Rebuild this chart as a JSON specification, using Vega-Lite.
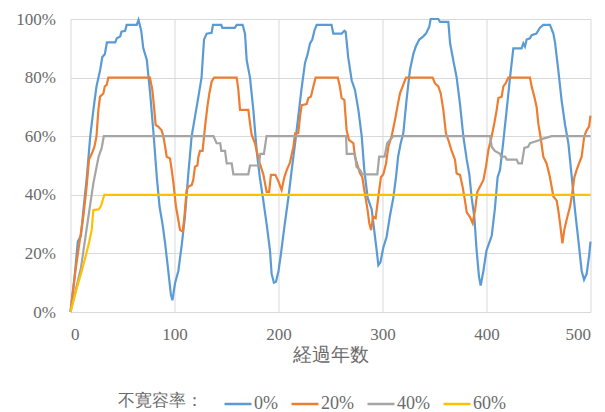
{
 "$schema": "https://vega.github.io/schema/vega-lite/v6.json",
 "width": 520,
 "height": 293,
 "autosize": {"type": "none"},
 "padding": {"left": 70.5, "top": 19, "right": 14.5, "bottom": 100},
 "background": "white",
 "config": {"font": "'Liberation Serif', serif", "view": {"stroke": null},
  "axis": {"labelFont": "'Liberation Serif', serif", "titleFont": "'Liberation Serif', serif"},
  "legend": {"labelFont": "'Liberation Serif', serif", "titleFont": "'Liberation Serif', serif"}},
 "data": {"values": [
{"s":"0%","x":0,"y":0},{"s":"0%","x":4,"y":12},{"s":"0%","x":7,"y":24},{"s":"0%","x":10,"y":26},{"s":"0%","x":12.5,"y":35},{"s":"0%","x":15.7,"y":46},{"s":"0%","x":19,"y":60},{"s":"0%","x":22,"y":69},{"s":"0%","x":25,"y":77},{"s":"0%","x":28.5,"y":82.6},{"s":"0%","x":30.6,"y":87},{"s":"0%","x":33,"y":88},{"s":"0%","x":35,"y":92},{"s":"0%","x":43,"y":92},{"s":"0%","x":44.5,"y":93.4},{"s":"0%","x":47.8,"y":94},{"s":"0%","x":49,"y":95.7},{"s":"0%","x":52.5,"y":96},{"s":"0%","x":54,"y":98},{"s":"0%","x":63.7,"y":98},{"s":"0%","x":65.4,"y":99.7},{"s":"0%","x":68,"y":96},{"s":"0%","x":70,"y":90},{"s":"0%","x":73.4,"y":86},{"s":"0%","x":76.6,"y":74.6},{"s":"0%","x":79.8,"y":61},{"s":"0%","x":83,"y":46},{"s":"0%","x":85.6,"y":36},{"s":"0%","x":88.5,"y":30},{"s":"0%","x":91,"y":23.4},{"s":"0%","x":94,"y":14},{"s":"0%","x":96.5,"y":6},{"s":"0%","x":98,"y":4},{"s":"0%","x":100.5,"y":9.8},{"s":"0%","x":103.7,"y":14},{"s":"0%","x":107,"y":23},{"s":"0%","x":110,"y":32.5},{"s":"0%","x":113,"y":46},{"s":"0%","x":116.5,"y":60},{"s":"0%","x":119.7,"y":66.7},{"s":"0%","x":123,"y":73.5},{"s":"0%","x":126,"y":80},{"s":"0%","x":128.4,"y":93},{"s":"0%","x":131,"y":95},{"s":"0%","x":135.7,"y":95.3},{"s":"0%","x":137,"y":98},{"s":"0%","x":145,"y":98},{"s":"0%","x":146,"y":97},{"s":"0%","x":158,"y":97},{"s":"0%","x":159.8,"y":98},{"s":"0%","x":165.5,"y":98},{"s":"0%","x":167.8,"y":95},{"s":"0%","x":169.4,"y":86},{"s":"0%","x":172.6,"y":80},{"s":"0%","x":175.8,"y":69},{"s":"0%","x":179,"y":55},{"s":"0%","x":182,"y":46},{"s":"0%","x":185,"y":39},{"s":"0%","x":188.6,"y":30},{"s":"0%","x":191.8,"y":21},{"s":"0%","x":193.4,"y":13},{"s":"0%","x":195.6,"y":10},{"s":"0%","x":197.6,"y":10.3},{"s":"0%","x":200,"y":14},{"s":"0%","x":202.4,"y":20},{"s":"0%","x":206,"y":30},{"s":"0%","x":209.5,"y":39},{"s":"0%","x":212.7,"y":48.5},{"s":"0%","x":216,"y":57.6},{"s":"0%","x":219,"y":66.7},{"s":"0%","x":222,"y":75.8},{"s":"0%","x":225.5,"y":85},{"s":"0%","x":228,"y":88},{"s":"0%","x":230.3,"y":91.7},{"s":"0%","x":232.5,"y":93},{"s":"0%","x":234.5,"y":96},{"s":"0%","x":236.7,"y":98},{"s":"0%","x":251,"y":98},{"s":"0%","x":252.7,"y":95},{"s":"0%","x":260.7,"y":95},{"s":"0%","x":263.3,"y":96},{"s":"0%","x":264.6,"y":95.6},{"s":"0%","x":267,"y":87},{"s":"0%","x":270.4,"y":79},{"s":"0%","x":273.5,"y":75.8},{"s":"0%","x":276.8,"y":69},{"s":"0%","x":280,"y":60},{"s":"0%","x":282.5,"y":48.5},{"s":"0%","x":285.7,"y":39},{"s":"0%","x":289.6,"y":35},{"s":"0%","x":292,"y":28},{"s":"0%","x":294.4,"y":21},{"s":"0%","x":296,"y":16},{"s":"0%","x":298,"y":17},{"s":"0%","x":300.8,"y":22},{"s":"0%","x":304,"y":25.7},{"s":"0%","x":307,"y":32.5},{"s":"0%","x":310.4,"y":39},{"s":"0%","x":313,"y":46},{"s":"0%","x":315,"y":53},{"s":"0%","x":317.5,"y":57.6},{"s":"0%","x":320,"y":61},{"s":"0%","x":323,"y":72},{"s":"0%","x":326.4,"y":82.6},{"s":"0%","x":329.6,"y":88},{"s":"0%","x":332,"y":90.6},{"s":"0%","x":335.4,"y":93},{"s":"0%","x":339,"y":94},{"s":"0%","x":341.8,"y":95},{"s":"0%","x":345,"y":97.4},{"s":"0%","x":346.3,"y":100},{"s":"0%","x":353.7,"y":100},{"s":"0%","x":355.3,"y":99},{"s":"0%","x":363.3,"y":99},{"s":"0%","x":365,"y":91.7},{"s":"0%","x":368,"y":86},{"s":"0%","x":371.3,"y":80},{"s":"0%","x":374.5,"y":71},{"s":"0%","x":377.7,"y":60},{"s":"0%","x":381,"y":52},{"s":"0%","x":383.5,"y":47},{"s":"0%","x":385.7,"y":39},{"s":"0%","x":388.3,"y":32.5},{"s":"0%","x":390.5,"y":21},{"s":"0%","x":392.8,"y":12},{"s":"0%","x":394.4,"y":9},{"s":"0%","x":397,"y":14},{"s":"0%","x":400,"y":21},{"s":"0%","x":402,"y":23},{"s":"0%","x":405,"y":26},{"s":"0%","x":408,"y":35},{"s":"0%","x":410.7,"y":46},{"s":"0%","x":413,"y":48.5},{"s":"0%","x":416,"y":57.6},{"s":"0%","x":419.4,"y":69},{"s":"0%","x":422.6,"y":80},{"s":"0%","x":425.8,"y":90},{"s":"0%","x":433.8,"y":90},{"s":"0%","x":435.4,"y":91.7},{"s":"0%","x":437,"y":90.6},{"s":"0%","x":438.6,"y":93},{"s":"0%","x":441.8,"y":93.4},{"s":"0%","x":443.4,"y":94.5},{"s":"0%","x":448,"y":95},{"s":"0%","x":451.4,"y":97},{"s":"0%","x":454.6,"y":98},{"s":"0%","x":461,"y":98},{"s":"0%","x":464.3,"y":95},{"s":"0%","x":466,"y":91.7},{"s":"0%","x":469,"y":82.6},{"s":"0%","x":472.3,"y":72},{"s":"0%","x":475.5,"y":64},{"s":"0%","x":478.7,"y":57.6},{"s":"0%","x":482,"y":46},{"s":"0%","x":485,"y":35},{"s":"0%","x":488.3,"y":24.6},{"s":"0%","x":491.5,"y":14},{"s":"0%","x":493.8,"y":11},{"s":"0%","x":496.3,"y":13},{"s":"0%","x":498.6,"y":19},{"s":"0%","x":500,"y":24},
{"s":"20%","x":0,"y":0},{"s":"20%","x":4.3,"y":13},{"s":"20%","x":9,"y":24.6},{"s":"20%","x":12.3,"y":32.5},{"s":"20%","x":15.5,"y":42.8},{"s":"20%","x":17.8,"y":52},{"s":"20%","x":20.4,"y":54},{"s":"20%","x":23,"y":56.4},{"s":"20%","x":25,"y":60},{"s":"20%","x":26.8,"y":69},{"s":"20%","x":28.4,"y":73.5},{"s":"20%","x":31.6,"y":74.6},{"s":"20%","x":33,"y":77},{"s":"20%","x":34.8,"y":77.5},{"s":"20%","x":36.4,"y":80},{"s":"20%","x":76.4,"y":80},{"s":"20%","x":78.7,"y":75.8},{"s":"20%","x":80.6,"y":69},{"s":"20%","x":81.9,"y":63.8},{"s":"20%","x":84.4,"y":63.3},{"s":"20%","x":87.6,"y":62},{"s":"20%","x":89.3,"y":60},{"s":"20%","x":91,"y":56.4},{"s":"20%","x":92.5,"y":53},{"s":"20%","x":95.7,"y":52.4},{"s":"20%","x":97.3,"y":48.5},{"s":"20%","x":99,"y":44},{"s":"20%","x":101.4,"y":36},{"s":"20%","x":103.7,"y":31.4},{"s":"20%","x":105.3,"y":28},{"s":"20%","x":107.9,"y":27.4},{"s":"20%","x":109.5,"y":32.5},{"s":"20%","x":111.7,"y":41.6},{"s":"20%","x":113.3,"y":42.8},{"s":"20%","x":116.5,"y":43.3},{"s":"20%","x":118,"y":45},{"s":"20%","x":119.7,"y":49.6},{"s":"20%","x":122,"y":50},{"s":"20%","x":123,"y":53},{"s":"20%","x":124.5,"y":55},{"s":"20%","x":127,"y":55},{"s":"20%","x":129.3,"y":63},{"s":"20%","x":131.6,"y":70},{"s":"20%","x":133.5,"y":74.6},{"s":"20%","x":135.7,"y":78.6},{"s":"20%","x":138,"y":80},{"s":"20%","x":159.8,"y":80},{"s":"20%","x":161.4,"y":75.8},{"s":"20%","x":163,"y":69},{"s":"20%","x":171,"y":69},{"s":"20%","x":172.6,"y":64.4},{"s":"20%","x":174.2,"y":60.4},{"s":"20%","x":177.4,"y":57.6},{"s":"20%","x":179,"y":55},{"s":"20%","x":182,"y":50.7},{"s":"20%","x":185.4,"y":47},{"s":"20%","x":187,"y":44},{"s":"20%","x":188.6,"y":41},{"s":"20%","x":191,"y":41},{"s":"20%","x":192.7,"y":46.8},{"s":"20%","x":197,"y":46.8},{"s":"20%","x":200,"y":44.5},{"s":"20%","x":203,"y":41.6},{"s":"20%","x":205.6,"y":46},{"s":"20%","x":208,"y":48.5},{"s":"20%","x":211,"y":51},{"s":"20%","x":214.3,"y":56.4},{"s":"20%","x":216,"y":61},{"s":"20%","x":219,"y":61},{"s":"20%","x":220.7,"y":66.7},{"s":"20%","x":222.3,"y":70.6},{"s":"20%","x":227,"y":71},{"s":"20%","x":228.7,"y":73},{"s":"20%","x":231.2,"y":73.5},{"s":"20%","x":233.5,"y":77},{"s":"20%","x":235.7,"y":80},{"s":"20%","x":257,"y":80},{"s":"20%","x":259,"y":77},{"s":"20%","x":260.7,"y":73},{"s":"20%","x":263.3,"y":72.4},{"s":"20%","x":265.5,"y":62},{"s":"20%","x":267.8,"y":58.7},{"s":"20%","x":272,"y":57.6},{"s":"20%","x":273.5,"y":53},{"s":"20%","x":278.4,"y":47.3},{"s":"20%","x":280.6,"y":46},{"s":"20%","x":283,"y":40.5},{"s":"20%","x":285.7,"y":34.8},{"s":"20%","x":287.3,"y":30.3},{"s":"20%","x":289,"y":28},{"s":"20%","x":291,"y":32.5},{"s":"20%","x":293.4,"y":32},{"s":"20%","x":296,"y":39.4},{"s":"20%","x":298.5,"y":46},{"s":"20%","x":300.8,"y":47},{"s":"20%","x":303.4,"y":50.7},{"s":"20%","x":305.6,"y":56.4},{"s":"20%","x":308.8,"y":60},{"s":"20%","x":312,"y":65.5},{"s":"20%","x":314.3,"y":70},{"s":"20%","x":316.8,"y":74.6},{"s":"20%","x":319.4,"y":77},{"s":"20%","x":322.6,"y":80},{"s":"20%","x":348.2,"y":80},{"s":"20%","x":350.5,"y":78},{"s":"20%","x":353.7,"y":77},{"s":"20%","x":356,"y":74.6},{"s":"20%","x":358.5,"y":69},{"s":"20%","x":361,"y":61},{"s":"20%","x":363.3,"y":58.7},{"s":"20%","x":366.5,"y":55},{"s":"20%","x":369.7,"y":52},{"s":"20%","x":371.3,"y":47.3},{"s":"20%","x":374.5,"y":46.8},{"s":"20%","x":377,"y":42.8},{"s":"20%","x":379.3,"y":38},{"s":"20%","x":381,"y":34},{"s":"20%","x":384,"y":32.5},{"s":"20%","x":386.7,"y":30.3},{"s":"20%","x":389,"y":34.8},{"s":"20%","x":391.2,"y":41},{"s":"20%","x":393.8,"y":42.8},{"s":"20%","x":397,"y":45},{"s":"20%","x":399.5,"y":49.6},{"s":"20%","x":401.8,"y":55.3},{"s":"20%","x":403.4,"y":57.6},{"s":"20%","x":405,"y":60},{"s":"20%","x":407.5,"y":64.4},{"s":"20%","x":409.8,"y":69},{"s":"20%","x":411.4,"y":73},{"s":"20%","x":414.6,"y":73.5},{"s":"20%","x":416.2,"y":77},{"s":"20%","x":418.4,"y":78},{"s":"20%","x":421,"y":80},{"s":"20%","x":441.8,"y":80},{"s":"20%","x":443.4,"y":77},{"s":"20%","x":446,"y":73.5},{"s":"20%","x":448.2,"y":70},{"s":"20%","x":449.8,"y":64.4},{"s":"20%","x":452.4,"y":58.7},{"s":"20%","x":454.6,"y":53},{"s":"20%","x":457.8,"y":50.7},{"s":"20%","x":461,"y":46},{"s":"20%","x":464.3,"y":39.4},{"s":"20%","x":467.5,"y":38},{"s":"20%","x":469,"y":34.8},{"s":"20%","x":470.7,"y":30.3},{"s":"20%","x":473,"y":23.4},{"s":"20%","x":474.8,"y":28},{"s":"20%","x":477,"y":31.4},{"s":"20%","x":480.3,"y":36},{"s":"20%","x":482,"y":39.4},{"s":"20%","x":484.5,"y":46},{"s":"20%","x":486.7,"y":48.5},{"s":"20%","x":489,"y":50.7},{"s":"20%","x":491.5,"y":53},{"s":"20%","x":494,"y":60},{"s":"20%","x":496.3,"y":62},{"s":"20%","x":498.6,"y":63.3},{"s":"20%","x":500,"y":67},
{"s":"40%","x":0,"y":0},{"s":"40%","x":10,"y":15},{"s":"40%","x":17,"y":32},{"s":"40%","x":22,"y":44},{"s":"40%","x":27,"y":53},{"s":"40%","x":30,"y":56},{"s":"40%","x":32,"y":60},{"s":"40%","x":137.5,"y":60},{"s":"40%","x":140.5,"y":57.6},{"s":"40%","x":144,"y":57.6},{"s":"40%","x":145,"y":55},{"s":"40%","x":148.6,"y":55},{"s":"40%","x":150.2,"y":50.7},{"s":"40%","x":155,"y":50.7},{"s":"40%","x":156.6,"y":47},{"s":"40%","x":171,"y":47},{"s":"40%","x":172.6,"y":50},{"s":"40%","x":181,"y":50},{"s":"40%","x":182.5,"y":54},{"s":"40%","x":186,"y":54},{"s":"40%","x":188.5,"y":60},{"s":"40%","x":265,"y":60},{"s":"40%","x":265.6,"y":54},{"s":"40%","x":273.5,"y":54},{"s":"40%","x":275,"y":49.5},{"s":"40%","x":278.4,"y":48.5},{"s":"40%","x":280.6,"y":47},{"s":"40%","x":295,"y":47},{"s":"40%","x":296.8,"y":53},{"s":"40%","x":302,"y":53},{"s":"40%","x":304.5,"y":57.6},{"s":"40%","x":307,"y":58.7},{"s":"40%","x":310.4,"y":60},{"s":"40%","x":403.4,"y":60},{"s":"40%","x":405,"y":56.4},{"s":"40%","x":408,"y":55},{"s":"40%","x":413,"y":54},{"s":"40%","x":414,"y":53},{"s":"40%","x":418,"y":53},{"s":"40%","x":419.5,"y":52},{"s":"40%","x":429,"y":52},{"s":"40%","x":430.6,"y":50.7},{"s":"40%","x":434,"y":50.7},{"s":"40%","x":436.4,"y":56},{"s":"40%","x":440,"y":56.4},{"s":"40%","x":441.8,"y":57.6},{"s":"40%","x":451.4,"y":58.7},{"s":"40%","x":453,"y":59},{"s":"40%","x":462.6,"y":60},{"s":"40%","x":500,"y":60},
{"s":"60%","x":0,"y":0},{"s":"60%","x":3,"y":4},{"s":"60%","x":6,"y":8},{"s":"60%","x":10.8,"y":14},{"s":"60%","x":15.6,"y":20.5},{"s":"60%","x":18,"y":24},{"s":"60%","x":20.4,"y":28},{"s":"60%","x":22,"y":34.8},{"s":"60%","x":27,"y":35},{"s":"60%","x":29,"y":36},{"s":"60%","x":30,"y":37},{"s":"60%","x":32.5,"y":40},{"s":"60%","x":500,"y":40}
 ]},
 "mark": {"type": "line", "strokeWidth": 2.2},
 "encoding": {
  "x": {"field": "x", "type": "quantitative",
   "scale": {"domain": [0, 500], "nice": false},
   "axis": {"values": [0, 100, 200, 300, 400, 500], "title": "経過年数", "domain": false, "ticks": false,
    "gridColor": "#D9D9D9", "labelFontSize": 17, "labelColor": "#6b6b6b", "labelPadding": 14,
    "titleFontSize": 19, "titleFontWeight": "normal", "titleColor": "#6b6b6b", "titlePadding": 3}},
  "y": {"field": "y", "type": "quantitative",
   "scale": {"domain": [0, 100], "nice": false},
   "axis": {"values": [0, 20, 40, 60, 80, 100], "labelExpr": "datum.value + '%'", "title": null, "domain": false, "ticks": false,
    "gridColor": "#D9D9D9", "labelFontSize": 17, "labelColor": "#6b6b6b", "labelPadding": 15}},
  "color": {"field": "s", "type": "nominal",
   "scale": {"domain": ["0%", "20%", "40%", "60%"], "range": ["#5B9BD5", "#ED7D31", "#A5A5A5", "#FFC000"]},
   "legend": {"title": "不寛容率：", "orient": "none", "legendX": 47.5, "legendY": 370, "direction": "horizontal",
    "titleOrient": "left", "titleAnchor": "middle", "titleBaseline": "middle", "titleFontSize": 17, "titleFontWeight": "normal", "titleColor": "#6b6b6b", "titlePadding": 20,
    "labelFontSize": 18, "labelColor": "#6b6b6b", "labelOffset": 1, "symbolType": "stroke", "symbolStrokeWidth": 2.5,
    "symbolSize": 729, "columnPadding": 8}}
 }
}
